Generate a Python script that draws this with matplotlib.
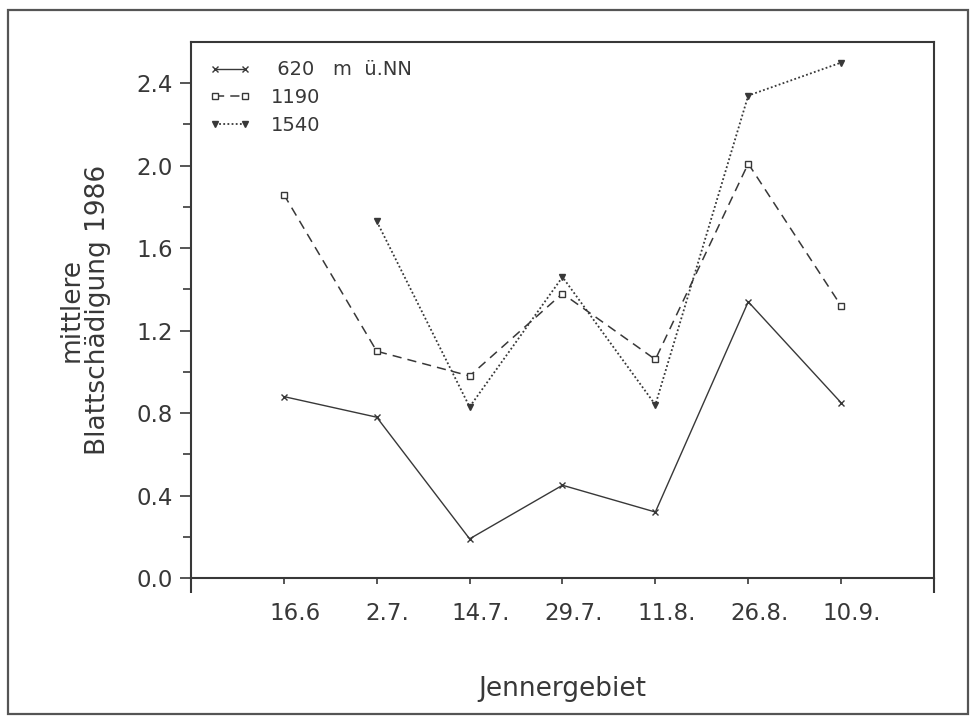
import numpy as np
import matplotlib.pyplot as plt
import matplotlib.transforms as mtransforms
from matplotlib.patches import Rectangle

plt.rcParams['font.family'] = ['DejaVu Sans']

# Termine der Aufnahmen
dates = ['16.6', '2.7.', '14.7.', '29.7.', '11.8.', '26.8.', '10.9.']

# mittlere Blattschaedigung je Hoehenstufe
dmg_620 = [0.88, 0.78, 0.19, 0.45, 0.32, 1.34, 0.85]
dmg_1190 = [1.86, 1.10, 0.98, 1.38, 1.06, 2.01, 1.32]
dmg_1540 = [np.nan, 1.73, 0.83, 1.46, 0.84, 2.34, 2.50]

labels = [' 620   m  ü.NN', '1190', '1540']

x = np.arange(len(dates))
col = '#383838'

fig = plt.figure(figsize=(9.73, 7.2), dpi=100)
ax = fig.add_axes([0.1963, 0.1972, 0.7636, 0.7445])

ax.plot(x, dmg_620, color=col, lw=1.0, ls='-', marker='x', ms=5, mew=1.0,
        label=labels[0])
ax.plot(x, dmg_1190, color=col, lw=1.1, ls=(0, (6, 4)), marker='s', ms=4.5,
        mfc='white', mec=col, mew=1.0, label=labels[1])
ax.plot(x, dmg_1540, color=col, lw=1.3, ls=(0, (1, 1.3)), marker='v', ms=5,
        mfc=col, mec=col, label=labels[2])

ax.set_xlim(-1, 7)
ax.set_ylim(0, 2.6)
ax.set_xticks(x)
ax.set_xticklabels(dates)
yt = np.arange(0, 2.41, 0.4)
ax.set_yticks(yt)
ax.set_yticklabels([f'{v:.1f}' for v in yt])
ax.set_yticks(yt[:-1] + 0.2, minor=True)
# kurze Verlaengerung der Seitenachsen unter die x-Achse
ax.set_xticks([-1, 7], minor=True)

ax.tick_params(axis='y', which='major', direction='out', length=8, width=1.2,
               labelsize=16.5, pad=5, colors=col)
ax.tick_params(axis='y', which='minor', direction='out', length=6, width=1.2,
               colors=col)
ax.tick_params(axis='x', which='major', direction='out', length=4, width=1.2,
               labelsize=16.5, pad=13, colors=col)
ax.tick_params(axis='x', which='minor', direction='out', length=11, width=1.5,
               colors=col)

# Datumsbeschriftung leicht nach rechts versetzt
shift = mtransforms.ScaledTranslation(0.11, 0, fig.dpi_scale_trans)
for lab in ax.get_xticklabels():
    lab.set_transform(lab.get_transform() + shift)

for s in ax.spines.values():
    s.set_linewidth(1.5)
    s.set_color(col)

ax.set_ylabel('mittlere\nBlattschädigung 1986', fontsize=19, color=col,
              labelpad=18, linespacing=1.05)
ax.set_xlabel('Jennergebiet', fontsize=19, color=col, labelpad=37)

leg = ax.legend(loc='upper left', numpoints=2, frameon=False, fontsize=14,
                handlelength=2.15, handletextpad=1.0, labelspacing=0.45,
                borderaxespad=0.55, borderpad=0.4)
for t in leg.get_texts():
    t.set_color(col)

# Rahmen um die gesamte Abbildung
fig.patches.append(Rectangle((8 / 973, 6 / 720), 960 / 973, 704 / 720,
                             transform=fig.transFigure, fill=False,
                             lw=1.6, ec='#555555'))

fig.savefig('out.png', dpi=100)
